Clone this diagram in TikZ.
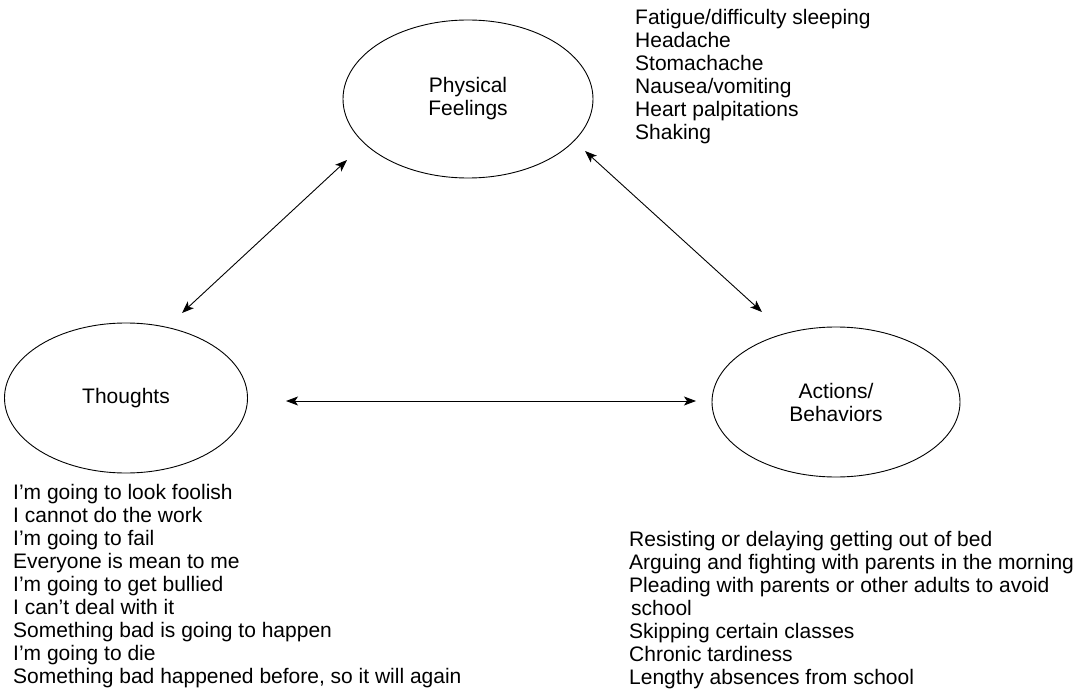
\documentclass[tikz,border=0pt]{standalone}
\usepackage{fontspec}
\setmainfont{Liberation Sans}
\usepackage{tikz}
\usetikzlibrary{shapes.geometric,arrows.meta,positioning}

\begin{document}
\begin{tikzpicture}[x=1pt,y=-1pt,
    bubble/.style={draw, ellipse, line width=0.9pt, align=center, font=\fontsize{21}{23}\selectfont},
    symlist/.style={anchor=north west, align=left, inner sep=0pt, font=\fontsize{21}{23}\selectfont},
    link/.style={line width=0.9pt, {Stealth[length=12pt,width=9pt,inset=3pt]}-{Stealth[length=12pt,width=9pt,inset=3pt]}}]

    % page
    \useasboundingbox (0,0) rectangle (1090,690);

    % Three circles
    \node[bubble, minimum width=250pt, minimum height=158pt] (pf) at (468,99) {Physical\\Feelings};
    \node[bubble, minimum width=243pt, minimum height=150pt] (th) at (126,398) {Thoughts};
    \node[bubble, minimum width=248pt, minimum height=150pt] (ab) at (836,402) {Actions/\\Behaviors};

    % Arrow ends
    \coordinate (pf1) at (347,160);
    \coordinate (th1) at (182,313);
    \coordinate (pf2) at (585,151);
    \coordinate (ab1) at (762,312);
    \coordinate (th2) at (286,401);
    \coordinate (ab2) at (696,401);

    \draw[link] (pf1) -- (th1);
    \draw[link] (pf2) -- (ab1);
    \draw[link] (th2) -- (ab2);

    % Symptom lists
    \node[symlist] (pflist) at (635,9.5) {Fatigue/difficulty sleeping\\Headache\\Stomachache\\Nausea/vomiting\\Heart palpitations\\Shaking};
    \node[symlist] (thlist) at (13,484.5) {I’m going to look foolish\\I cannot do the work\\I’m going to fail\\Everyone is mean to me\\I’m going to get bullied\\I can’t deal with it\\Something bad is going to happen\\I’m going to die\\Something bad happened before, so it will again};
    \node[symlist] (ablist) at (629,531.5) {Resisting or delaying getting out of bed\\Arguing and fighting with parents in the morning\\Pleading with parents or other adults to avoid\\\hspace{2pt}school\\Skipping certain classes\\Chronic tardiness\\Lengthy absences from school};

\end{tikzpicture}
\end{document}
